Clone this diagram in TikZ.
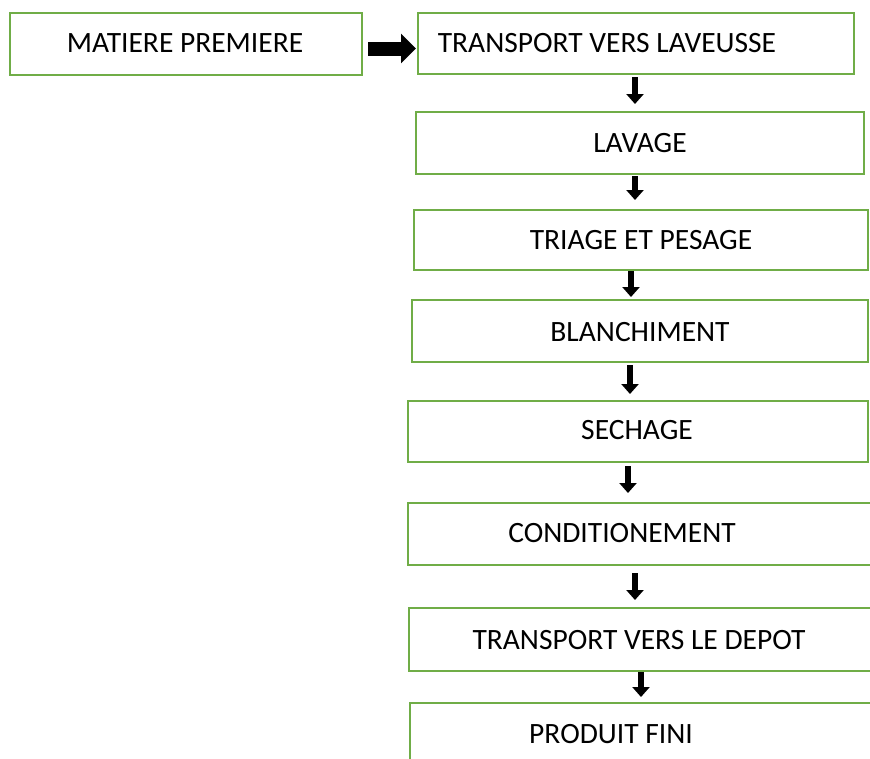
\documentclass[tikz,border=0pt]{standalone}
\usepackage{fontspec}
\setmainfont{Carlito}
\usetikzlibrary{arrows.meta}
\definecolor{boxgreen}{HTML}{70AD47}
\begin{document}
\begin{tikzpicture}[x=1pt,y=-1pt,
  box/.style={draw=boxgreen, line width=2.8pt, rectangle, inner sep=0pt, outer sep=0pt},
  lbl/.style={anchor=base, inner sep=0pt, font=\fontsize{29.5}{34}\selectfont},
  varrow/.style={line width=6.5pt, -{Triangle[width=17pt,length=10pt]}},
  harrow/.style={line width=14pt, -{Triangle[width=29pt,length=15pt]}}]
\useasboundingbox (0,0) rectangle (870,758);
\clip (0,0) rectangle (870,758);
% boxes
\node[box, minimum width=352pt, minimum height=62pt] (b1) at (186,44) {};
\node[box, minimum width=436pt, minimum height=61pt] (b2) at (636,43.5) {};
\node[box, minimum width=448pt, minimum height=62pt] (b3) at (640,143) {};
\node[box, minimum width=454pt, minimum height=60pt] (b4) at (641,240) {};
\node[box, minimum width=456pt, minimum height=62pt] (b5) at (640,331) {};
\node[box, minimum width=460pt, minimum height=61pt] (b6) at (638,431.5) {};
\node[box, minimum width=472pt, minimum height=62pt] (b7) at (644,534) {};
\node[box, minimum width=471pt, minimum height=63pt] (b8) at (644.5,639.5) {};
\node[box, minimum width=470pt, minimum height=77pt] (b9) at (645,741.5) {};
% labels
\node[lbl] (t1) at (185,52) {MATIERE PREMIERE};
\node[lbl] (t2) at (607,52) {TRANSPORT VERS LAVEUSSE};
\node[lbl] (t3) at (640,152) {LAVAGE};
\node[lbl] (t4) at (641,249) {TRIAGE ET PESAGE};
\node[lbl] (t5) at (640,341) {BLANCHIMENT};
\node[lbl] (t6) at (637,439) {SECHAGE};
\node[lbl] (t7) at (622,542) {CONDITIONEMENT};
\node[lbl] (t8) at (639,649) {TRANSPORT VERS LE DEPOT};
\node[lbl] (t9) at (611,743) {PRODUIT FINI};
% arrow columns
\coordinate (c0) at (0,48.5);
\coordinate (c1) at (635,0);
\coordinate (c2) at (635,0);
\coordinate (c3) at (631,0);
\coordinate (c4) at (630,0);
\coordinate (c5) at (628,0);
\coordinate (c6) at (635,0);
\coordinate (c7) at (641,0);
% connectors
\draw[harrow, shorten <=6pt, shorten >=2pt] (b1.east |- c0) -- (b2.west |- c0);
\draw[varrow, shorten <=3pt, shorten >=8pt] (b2.south -| c1) -- (b3.north -| c1);
\draw[varrow, shorten <=2pt, shorten >=10pt] (b3.south -| c2) -- (b4.north -| c2);
\draw[varrow, shorten <=1pt, shorten >=3pt] (b4.south -| c3) -- (b5.north -| c3);
\draw[varrow, shorten <=3pt, shorten >=7pt] (b5.south -| c4) -- (b6.north -| c4);
\draw[varrow, shorten <=4pt, shorten >=10pt] (b6.south -| c5) -- (b7.north -| c5);
\draw[varrow, shorten <=8pt, shorten >=8pt] (b7.south -| c6) -- (b8.north -| c6);
\draw[varrow, shorten <=1pt, shorten >=6pt] (b8.south -| c7) -- (b9.north -| c7);
\end{tikzpicture}
\end{document}
